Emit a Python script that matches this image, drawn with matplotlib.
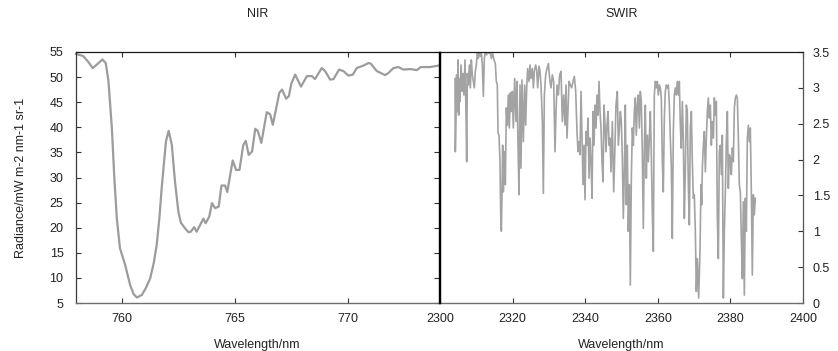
import matplotlib
matplotlib.use("Agg")
import matplotlib.pyplot as plt
from matplotlib.ticker import FuncFormatter

plt.rcParams['font.family'] = ['Liberation Sans', 'DejaVu Sans']

# ---------------- data ----------------
nir_wl = [757.95, 758.27, 758.5, 758.69, 758.9, 759.12, 759.27, 759.39, 759.54, 759.65,
          759.76, 759.9, 760.13, 760.35, 760.5, 760.65, 760.87, 761.05, 761.24, 761.4,
          761.53, 761.65, 761.75, 761.94, 762.06, 762.2, 762.34, 762.49, 762.6, 762.8,
          762.94, 763.04, 763.19, 763.3, 763.6, 763.7, 763.86, 763.98, 764.12, 764.28,
          764.4, 764.56, 764.66, 764.9, 765.05, 765.2, 765.37, 765.48, 765.61, 765.76,
          765.9, 766.01, 766.17, 766.41, 766.56, 766.68, 766.97, 767.09, 767.27, 767.39,
          767.5, 767.67, 767.93, 768.19, 768.41, 768.55, 768.85, 769.0, 769.22, 769.37,
          769.62, 769.81, 770.03, 770.23, 770.4, 770.7, 770.92, 771.02, 771.29, 771.66,
          771.8, 772.03, 772.25, 772.47, 772.77, 773.07, 773.24, 773.65, 774.04]
nir_rad = [54.6, 54.2, 53.0, 51.8, 52.6, 53.5, 52.8, 49.2, 39.9, 29.9,
           21.9, 15.9, 12.6, 8.6, 6.8, 6.1, 6.6, 8.0, 9.9, 13.0,
           16.6, 22.0, 27.9, 37.2, 39.3, 36.5, 29.2, 23.2, 21.0, 19.8,
           19.1, 19.2, 20.1, 19.2, 21.8, 20.9, 22.2, 24.9, 23.9, 24.2,
           28.4, 28.4, 27.1, 33.4, 31.5, 31.5, 36.5, 37.3, 34.5, 35.2,
           39.7, 39.3, 36.9, 43.0, 42.6, 40.5, 46.9, 47.5, 45.7, 46.2,
           48.7, 50.5, 48.1, 50.2, 50.2, 49.6, 51.8, 51.2, 49.5, 49.6,
           51.5, 51.2, 50.3, 50.5, 51.8, 52.3, 52.8, 52.7, 51.2, 50.4,
           50.8, 51.8, 52.0, 51.5, 51.6, 51.4, 52.0, 52.0, 52.3]

swir_wl = [
    2304.13, 2304.22, 2304.41, 2304.59, 2304.78, 2304.96, 2305.14, 2305.33, 2305.51, 2305.79,
    2306.06, 2306.34, 2306.61, 2306.89, 2307.16, 2307.35, 2307.53, 2307.81, 2308.08, 2308.36,
    2308.63, 2308.91, 2309.18, 2309.46, 2309.73, 2310.01, 2310.28, 2310.56, 2310.84, 2311.11,
    2311.39, 2311.66, 2311.94, 2312.21, 2312.49, 2312.86, 2313.13, 2313.5, 2313.77, 2314.14,
    2314.51, 2314.88, 2315.24, 2315.52, 2315.79, 2315.98, 2316.25, 2316.53, 2316.71, 2316.9,
    2317.08, 2317.26, 2317.45, 2317.72, 2318.0, 2318.27, 2318.55, 2318.82, 2319.1, 2319.38,
    2319.65, 2319.93, 2320.2, 2320.57, 2320.94, 2321.21, 2321.49, 2321.76, 2322.04, 2322.31,
    2322.59, 2322.96, 2323.32, 2323.6, 2323.88, 2324.15, 2324.52, 2324.8, 2325.07, 2325.44,
    2325.72, 2325.99, 2326.36, 2326.63, 2326.91, 2327.28, 2327.55, 2327.83, 2328.2, 2328.47,
    2328.75, 2329.11, 2329.48, 2329.85, 2330.22, 2330.58, 2330.95, 2331.32, 2331.68, 2331.96,
    2332.24, 2332.6, 2332.97, 2333.34, 2333.7, 2334.07, 2334.44, 2334.71, 2334.99, 2335.27,
    2335.54, 2335.91, 2336.28, 2336.64, 2337.01, 2337.38, 2337.74, 2338.02, 2338.3, 2338.57,
    2338.85, 2339.12, 2339.4, 2339.67, 2339.95, 2340.22, 2340.5, 2340.78, 2341.05, 2341.33,
    2341.6, 2341.88, 2342.15, 2342.43, 2342.7, 2342.98, 2343.25, 2343.53, 2343.81, 2344.08,
    2344.36, 2344.63, 2344.91, 2345.18, 2345.46, 2345.73, 2346.01, 2346.29, 2346.56, 2346.84,
    2347.11, 2347.48, 2347.85, 2348.21, 2348.48, 2348.85, 2349.13, 2349.4, 2349.68, 2349.95,
    2350.23, 2350.5, 2350.78, 2351.05, 2351.33, 2351.6, 2351.88, 2352.16, 2352.43, 2352.71,
    2352.98, 2353.26, 2353.53, 2353.81, 2354.08, 2354.36, 2354.64, 2354.91, 2355.19, 2355.46,
    2355.74, 2356.01, 2356.29, 2356.56, 2356.84, 2357.11, 2357.39, 2357.67, 2357.94, 2358.22,
    2358.49, 2358.77, 2359.04, 2359.32, 2359.59, 2359.87, 2360.15, 2360.42, 2360.7, 2360.97,
    2361.25, 2361.52, 2361.8, 2362.07, 2362.35, 2362.62, 2362.9, 2363.18, 2363.45, 2363.73,
    2364.0, 2364.28, 2364.55, 2364.83, 2365.1, 2365.38, 2365.66, 2365.93, 2366.21, 2366.48,
    2366.76, 2367.03, 2367.31, 2367.58, 2367.86, 2368.13, 2368.41, 2368.69, 2368.96, 2369.24,
    2369.51, 2369.79, 2370.06, 2370.34, 2370.61, 2370.89, 2371.26, 2371.62, 2371.9, 2372.09,
    2372.27, 2372.55, 2372.82, 2373.1, 2373.37, 2373.65, 2373.92, 2374.2, 2374.47, 2374.75,
    2375.03, 2375.3, 2375.58, 2375.85, 2376.13, 2376.4, 2376.68, 2376.95, 2377.23, 2377.5,
    2377.78, 2378.06, 2378.33, 2378.61, 2378.88, 2379.16, 2379.43, 2379.71, 2379.98, 2380.26,
    2380.53, 2380.81, 2381.09, 2381.36, 2381.64, 2381.91, 2382.19, 2382.46, 2382.74, 2383.01,
    2383.29, 2383.56, 2383.84, 2384.12, 2384.39, 2384.67, 2384.94, 2385.22, 2385.49, 2385.77,
    2386.04, 2386.32, 2386.59, 2386.87]
swir_rad = [
    3.13, 2.11, 2.58, 3.18, 2.67, 3.39, 2.62, 3.13, 2.81, 3.32,
    2.95, 3.20, 2.90, 3.39, 2.67, 1.97, 3.20, 3.04, 3.32, 3.00,
    3.39, 3.18, 3.09, 3.00, 3.23, 3.32, 3.48, 3.41, 3.53, 3.44,
    3.48, 3.32, 2.88, 3.41, 3.51, 3.46, 3.53, 3.48, 3.52, 3.41,
    3.48, 3.39, 3.34, 3.09, 3.04, 2.37, 2.34, 1.97, 1.27, 1.00,
    1.51, 2.20, 1.55, 2.11, 1.65, 2.72, 2.48, 2.90, 2.44, 2.93,
    2.67, 2.95, 2.44, 3.13, 2.53, 3.09, 2.20, 1.51, 3.04, 1.88,
    3.11, 2.25, 3.04, 2.48, 3.00, 3.27, 3.09, 3.32, 3.13, 3.27,
    3.00, 3.23, 3.32, 3.25, 3.00, 3.30, 3.23, 3.04, 2.53, 1.53,
    2.90, 3.18, 3.27, 3.34, 3.13, 3.00, 3.18, 3.09, 2.11, 2.67,
    3.04, 2.90, 3.18, 3.23, 2.53, 2.90, 2.48, 3.04, 2.30, 2.72,
    3.09, 3.04, 3.00, 3.09, 3.16, 2.95, 2.39, 2.11, 2.25, 2.07,
    2.95, 2.30, 1.65, 2.20, 1.44, 2.39, 2.20, 2.58, 1.74, 2.30,
    1.97, 1.46, 2.67, 2.20, 2.76, 2.44, 2.90, 2.62, 3.09, 2.67,
    2.44, 1.97, 1.69, 2.76, 2.48, 2.11, 2.48, 2.67, 2.20, 2.30,
    1.83, 2.53, 1.55, 2.20, 2.76, 2.95, 2.20, 2.44, 2.67, 2.53,
    2.02, 1.18, 1.83, 2.76, 1.37, 2.20, 1.00, 1.65, 0.25, 1.74,
    2.44, 2.20, 2.67, 2.86, 2.34, 2.76, 2.90, 2.44, 2.95, 2.81,
    2.07, 1.04, 2.20, 2.76, 1.74, 2.34, 1.97, 2.30, 2.67, 2.07,
    1.27, 0.72, 2.90, 3.09, 3.00, 3.09, 2.90, 3.04, 3.00, 2.86,
    1.97, 1.55, 2.58, 2.95, 3.04, 3.00, 3.04, 2.76, 2.30, 1.88,
    0.90, 2.39, 2.90, 3.00, 2.90, 3.09, 2.90, 3.09, 2.48, 2.16,
    2.81, 2.30, 1.18, 1.83, 2.76, 2.67, 1.65, 1.09, 2.44, 2.67,
    1.97, 1.46, 1.51, 1.00, 0.16, 0.62, 0.07, 0.72, 1.65, 1.37,
    1.88, 2.20, 2.39, 1.83, 2.30, 2.67, 2.86, 2.58, 2.76, 2.20,
    2.53, 2.30, 2.86, 2.62, 2.81, 1.18, 0.62, 2.11, 2.20, 1.79,
    2.34, 0.07, 1.00, 1.55, 2.25, 2.67, 1.60, 2.07, 2.02, 1.79,
    2.16, 1.97, 2.72, 2.86, 2.90, 2.86, 2.30, 1.65, 1.55, 0.90,
    0.34, 1.41, 0.11, 1.46, 1.00, 2.30, 2.48, 2.25, 2.44, 1.55,
    0.39, 1.51, 1.23, 1.46]

nir_yticks = [5, 10, 15, 20, 25, 30, 35, 40, 45, 50, 55]
nir_xticks = [760, 765, 770]
swir_xticks = [2300, 2320, 2340, 2360, 2380, 2400]
swir_yticks = [0, 0.5, 1, 1.5, 2, 2.5, 3, 3.5]

# ---------------- figure ----------------
W, H = 838, 351
fig = plt.figure(figsize=(W / 100, H / 100), dpi=100)
ax1 = fig.add_axes([76 / W, 1 - 303 / H, 363 / W, 251 / H])
ax2 = fig.add_axes([440 / W, 1 - 303 / H, 363 / W, 251 / H])

txt = '#222222'
ax1.plot(nir_wl, nir_rad, color='#9c9c9c', lw=1.6, solid_joinstyle='round', clip_on=False)
ax1.set_xlim(757.95, 774.05)
ax1.set_ylim(5, 55)
ax1.set_xticks(nir_xticks)
ax1.set_yticks(nir_yticks)
ax1.tick_params(axis='both', direction='in', length=3.5, width=0.8, labelsize=9,
                colors='#333333', labelcolor=txt)
ax1.tick_params(axis='y', right=True, pad=9)
ax1.tick_params(axis='x', top=True, pad=7)
ax1.set_title('NIR', fontsize=9, color=txt, pad=25)
ax1.set_xlabel('Wavelength/nm', fontsize=9, color=txt, labelpad=10)
ax1.set_ylabel('Radiance/mW m-2 nm-1 sr-1', fontsize=9, color=txt, labelpad=16)

ax2.plot(swir_wl, swir_rad, color='#a3a3a3', lw=1.2)
ax2.set_xlim(2300, 2400)
ax2.set_ylim(0, 3.5)
ax2.set_xticks(swir_xticks)
ax2.set_yticks(swir_yticks)
ax2.yaxis.set_major_formatter(FuncFormatter(lambda v, p: f'{v:g}'))
ax2.tick_params(axis='both', direction='in', length=3.5, width=0.8, labelsize=9,
                colors='#333333', labelcolor=txt)
ax2.tick_params(axis='y', left=False, labelleft=False, right=True, labelright=True, pad=7)
ax2.tick_params(axis='x', top=True, pad=7)
ax2.set_title('SWIR', fontsize=9, color=txt, pad=25)
ax2.set_xlabel('Wavelength/nm', fontsize=9, color=txt, labelpad=10)

for ax in (ax1, ax2):
    ax.spines['top'].set_color('#1a1a1a')
    ax.spines['top'].set_linewidth(0.9)
    ax.spines['bottom'].set_color('#6e6e6e')
    ax.spines['bottom'].set_linewidth(1.0)
ax1.spines['left'].set_color('#3a3a3a')
ax1.spines['left'].set_linewidth(0.9)
ax1.spines['right'].set_color('black')
ax1.spines['right'].set_linewidth(1.0)
ax2.spines['left'].set_color('black')
ax2.spines['left'].set_linewidth(1.0)
ax2.spines['right'].set_color('#555555')
ax2.spines['right'].set_linewidth(0.9)
ax1.spines['right'].set_zorder(5)
ax2.spines['left'].set_zorder(5)

fig.savefig('out.png', dpi=100)
